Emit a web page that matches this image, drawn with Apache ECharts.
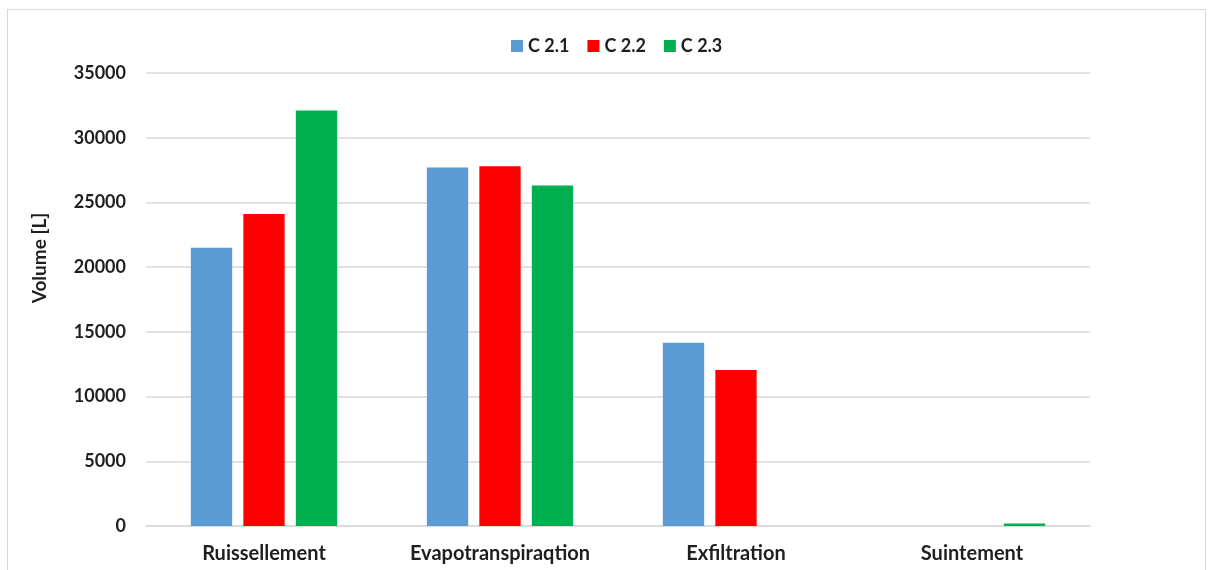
<!DOCTYPE html>
<html><head><meta charset="utf-8">
<script src="https://cdn.jsdelivr.net/npm/echarts@6/dist/echarts.min.js"></script>
<style>
html,body{margin:0;padding:0;background:#fff;}
#frame{position:absolute;left:7px;top:9px;width:1199px;height:570px;border:1px solid #d9d9d9;box-sizing:border-box;}
#c{position:absolute;left:0;top:0;width:1212px;height:570px;}
</style></head>
<body>
<div id="frame"></div>
<div id="c"></div>
<script>
const categories = ['Ruissellement', 'Evapotranspiraqtion', 'Exfiltration', 'Suintement'];
const seriesNames = ['C 2.1', 'C 2.2', 'C 2.3'];
const c21 = [21500, 27700, 14150, 0];
const c22 = [24100, 27800, 12050, 0];
const c23 = [32100, 26300, 0, 200];
const colors = ['#5b9bd5', '#ff0000', '#00b050'];
const yMin = 0, yMax = 35000, yStep = 5000;
const yTitle = 'Volume [L]';

const chart = echarts.init(document.getElementById('c'), null, {renderer: 'canvas'});
const font = 'Lato, "Open Sans", sans-serif';
const txt = '#1f1f1f';
const data = [c21, c22, c23];
chart.setOption({
  animation: false,
  color: colors,
  legend: {
    top: 32, left: 506,
    itemWidth: 12, itemHeight: 12, itemGap: 18,
    icon: 'rect',
    textStyle: {fontFamily: font, fontWeight: 'bold', fontSize: 18, color: txt},
    data: seriesNames
  },
  graphic: [{
    type: 'text',
    x: 40, y: 258, rotation: Math.PI / 2,
    style: {text: yTitle, fontFamily: font, fontWeight: 'bold', fontSize: 19, fill: txt,
            textAlign: 'center', textVerticalAlign: 'middle'}
  }],
  grid: {left: 146, right: 122, top: 73, bottom: 44, containLabel: false},
  xAxis: {
    type: 'category', data: categories,
    axisLine: {lineStyle: {color: '#d9d9d9', width: 1.5}},
    axisTick: {show: false},
    axisLabel: {fontFamily: font, fontWeight: 'bold', fontSize: 20, color: txt, margin: 18}
  },
  yAxis: {
    type: 'value', min: yMin, max: yMax, interval: yStep,
    axisLine: {show: false}, axisTick: {show: false},
    splitLine: {lineStyle: {color: '#d9d9d9', width: 1.5}},
    axisLabel: {fontFamily: font, fontWeight: 'bold', fontSize: 18, color: txt, margin: 20,
                formatter: v => String(v)}
  },
  series: seriesNames.map((n, i) => ({
    name: n, type: 'bar', data: data[i],
    barGap: '27%', barCategoryGap: '38%',
    itemStyle: {color: colors[i]}
  }))
});
</script>
</body></html>
